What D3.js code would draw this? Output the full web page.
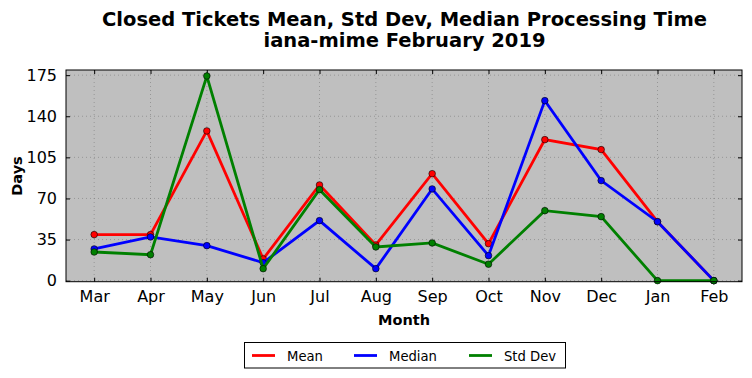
<!DOCTYPE html>
<html><head><meta charset="utf-8">
<script src="https://cdn.jsdelivr.net/npm/d3@7"></script>
<style>body{margin:0;background:#fff;} svg{display:block;font-family:"DejaVu Sans",sans-serif;}</style>
</head><body>
<script>
const months = ["Mar","Apr","May","Jun","Jul","Aug","Sep","Oct","Nov","Dec","Jan","Feb"];
const meanVals   = [39.2, 39.2, 127.5, 18.5, 81.5, 30.4, 91.1, 31.5, 120.1, 111.6, 50.2, 0];
const medianVals = [27.0, 37.2, 29.8, 15.3, 51.1, 10.2, 78.1, 21.3, 153.3, 85.2, 50.2, 0];
const stdVals    = [24.4, 22.1, 174.3, 10.2, 77.5, 28.7, 32.1, 14.0, 59.6, 54.5, 0, 0];
const yTicks = [0, 35, 70, 105, 140, 175];
const seriesNames = ["Mean", "Median", "Std Dev"];
const seriesColors = ["#ff0000", "#0000ff", "#008000"];
const titleLines = ["Closed Tickets Mean, Std Dev, Median Processing Time", "iana-mime February 2019"];

const W = 752, H = 378;
const L = 66, R = 742, T = 70, B = 281.7;
const svg = d3.select("body").append("svg").attr("width", W).attr("height", H);

const x = d3.scaleLinear().domain([-0.5, months.length - 0.5]).range([L, R]);
const y = d3.scaleLinear().domain([-0.9, 179.4]).range([B, T]);

svg.append("rect").attr("x", L).attr("y", T).attr("width", R - L).attr("height", B - T).attr("fill", "#bfbfbf");

// grid
const g = svg.append("g");
months.forEach((m, i) => {
  g.append("line").attr("x1", x(i)).attr("x2", x(i)).attr("y1", T).attr("y2", B)
    .attr("stroke", "#7a7a7a").attr("stroke-width", 0.6).attr("stroke-dasharray", "1,3");
});
yTicks.forEach(v => {
  g.append("line").attr("x1", L).attr("x2", R).attr("y1", y(v)).attr("y2", y(v))
    .attr("stroke", "#7a7a7a").attr("stroke-width", 0.6).attr("stroke-dasharray", "1,3");
});

// axes using d3 axis (ticks inward)
const xAxisB = d3.axisBottom(x).tickValues(d3.range(months.length)).tickFormat(i => months[i]).tickSizeInner(-4).tickSizeOuter(0).tickPadding(9);
const xAxisT = d3.axisTop(x).tickValues(d3.range(months.length)).tickFormat("").tickSizeInner(-4).tickSizeOuter(0);
const yAxisL = d3.axisLeft(y).tickValues(yTicks).tickSizeInner(-4).tickSizeOuter(0).tickPadding(9);
const yAxisR = d3.axisRight(y).tickValues(yTicks).tickFormat("").tickSizeInner(-4).tickSizeOuter(0);

function styleAxis(sel) {
  sel.select(".domain").remove();
  sel.selectAll(".tick line").attr("stroke", "#000").attr("stroke-width", 1);
  sel.selectAll(".tick text").attr("font-size", 16).attr("fill", "#000").attr("font-family", "DejaVu Sans");
}
svg.append("g").attr("transform", `translate(0,${B})`).call(xAxisB).call(styleAxis);
svg.append("g").attr("transform", `translate(0,${T})`).call(xAxisT).call(styleAxis);
svg.append("g").attr("transform", `translate(${L},0)`).call(yAxisL).call(styleAxis);
svg.append("g").attr("transform", `translate(${R},0)`).call(yAxisR).call(styleAxis);

// lines
const allSeries = [meanVals, medianVals, stdVals];
const lineGen = d3.line().x((d, i) => x(i)).y(d => y(d));
allSeries.forEach((vals, si) => {
  const sg = svg.append("g");
  sg.append("path").datum(vals).attr("d", lineGen).attr("fill", "none")
    .attr("stroke", seriesColors[si]).attr("stroke-width", 2.8).attr("stroke-linejoin", "miter");
  sg.selectAll("circle").data(vals).join("circle")
    .attr("cx", (d, i) => x(i)).attr("cy", d => y(d)).attr("r", 3.3)
    .attr("fill", seriesColors[si]).attr("stroke", "#000").attr("stroke-width", 0.6);
});

// frame
svg.append("rect").attr("x", L).attr("y", T).attr("width", R - L).attr("height", B - T)
  .attr("fill", "none").attr("stroke", "#000").attr("stroke-width", 1);

// title
titleLines.forEach((t, i) => {
  svg.append("text").attr("x", 404.5).attr("y", 25.5 + i * 21.5).attr("text-anchor", "middle")
    .attr("font-size", 19.5).attr("font-weight", "bold").text(t);
});

// axis labels
svg.append("text").attr("x", 404).attr("y", 325).attr("text-anchor", "middle")
  .attr("font-size", 14.5).attr("font-weight", "bold").text("Month");
svg.append("text").attr("transform", `translate(21.5,176) rotate(-90)`).attr("text-anchor", "middle")
  .attr("font-size", 14.5).attr("font-weight", "bold").text("Days");

// legend
const lg = svg.append("g");
lg.append("rect").attr("x", 244.5).attr("y", 342.5).attr("width", 321).attr("height", 25.5)
  .attr("fill", "#fff").attr("stroke", "#000").attr("stroke-width", 1);
const legX = [252, 354, 469];
seriesNames.forEach((n, i) => {
  lg.append("line").attr("x1", legX[i]).attr("x2", legX[i] + 23).attr("y1", 355.5).attr("y2", 355.5)
    .attr("stroke", seriesColors[i]).attr("stroke-width", 2.8);
  lg.append("text").attr("x", legX[i] + 35).attr("y", 360.5).attr("font-size", 13.2).text(n);
});
</script>
</body></html>
